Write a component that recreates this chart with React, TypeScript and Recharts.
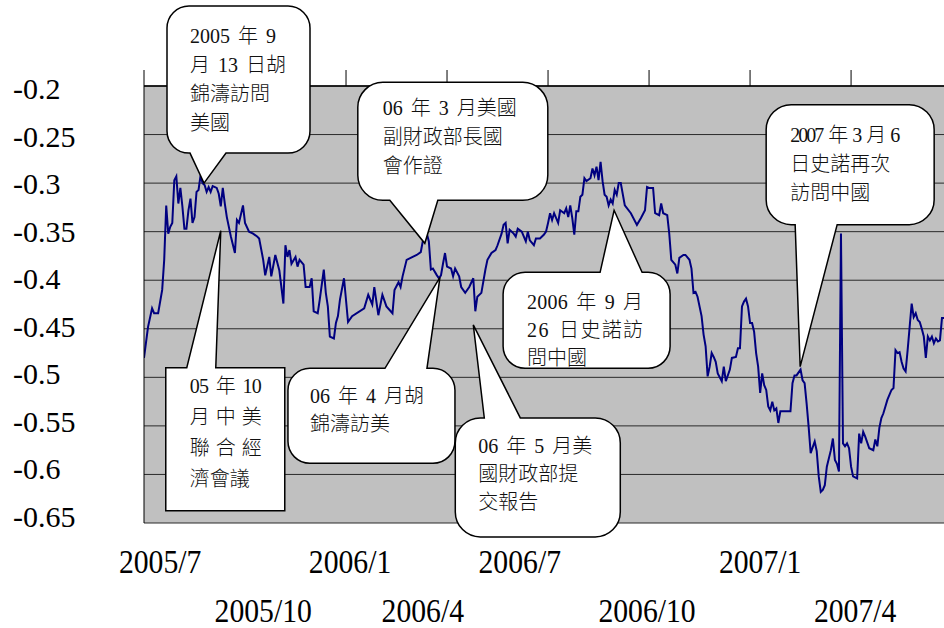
import React from 'react';
import { LineChart, Line, XAxis, YAxis, CartesianGrid, ReferenceDot } from 'recharts';

// trading-day index from the start of the series (2005/7)
const days = [
  0, 2, 4, 5, 7, 9, 10, 11, 12, 13, 14, 15, 16, 17, 18, 19, 20, 21, 22, 23,
  24, 25, 26, 27, 28, 29, 30, 31, 32, 33, 34, 36, 37, 38, 39, 40, 41, 43, 45, 46,
  47, 49, 50, 52, 54, 56, 57, 59, 60, 62, 63, 65, 67, 69, 70, 71, 72, 73, 75, 76,
  77, 79, 80, 82, 83, 84, 86, 87, 89, 90, 91, 92, 94, 95, 96, 97, 99, 101, 103, 109,
  111, 113, 114, 116, 118, 120, 123, 124, 126, 127, 128, 130, 132, 133, 135, 137, 138, 140, 141, 142,
  143, 145, 146, 147, 148, 149, 150, 152, 153, 154, 156, 157, 159, 161, 163, 164, 165, 167, 169, 170,
  172, 174, 175, 177, 178, 179, 180, 181, 183, 184, 185, 187, 189, 190, 191, 193, 194, 196, 198, 199,
  200, 201, 202, 203, 205, 206, 208, 209, 210, 211, 212, 213, 214, 215, 216, 217, 218, 219, 221, 222,
  223, 224, 225, 226, 227, 228, 229, 230, 231, 232, 233, 234, 235, 236, 238, 241, 244, 246, 248, 249,
  250, 252, 253, 255, 256, 257, 259, 260, 261, 263, 264, 265, 267, 268, 270, 271, 272, 273, 274, 276,
  277, 278, 279, 280, 281, 282, 283, 284, 286, 287, 288, 290, 291, 293, 294, 295, 296, 297, 298, 299,
  300, 301, 302, 303, 304, 305, 306, 307, 308, 309, 310, 311, 312, 313, 314, 315, 320, 321, 322, 323,
  325, 326, 327, 328, 329, 330, 332, 333, 334, 335, 336, 337, 338, 340, 341, 342, 343, 344, 345, 346,
  347, 348, 349, 350, 351, 353, 354, 355, 356, 357, 359, 361, 362, 363, 364, 365, 366, 367, 368, 370,
  371, 372, 373, 374, 375, 376, 377, 378, 379, 380, 381, 382, 383, 384, 385, 386, 387, 388, 389, 390,
  391, 392, 393, 394, 395, 396,
];

const values = [
  -0.480, -0.448, -0.429, -0.434, -0.434, -0.410, -0.379, -0.323, -0.352, -0.345, -0.341, -0.297, -0.293, -0.321, -0.305, -0.324, -0.347, -0.347, -0.328, -0.316,
  -0.341, -0.335, -0.309, -0.307, -0.292, -0.300, -0.302, -0.309, -0.304, -0.309, -0.303, -0.305, -0.311, -0.324, -0.305, -0.321, -0.335, -0.355, -0.372, -0.338,
  -0.341, -0.323, -0.341, -0.350, -0.352, -0.355, -0.357, -0.379, -0.395, -0.376, -0.396, -0.374, -0.390, -0.424, -0.364, -0.376, -0.369, -0.383, -0.376, -0.386,
  -0.379, -0.384, -0.407, -0.407, -0.398, -0.432, -0.434, -0.420, -0.389, -0.413, -0.427, -0.458, -0.460, -0.444, -0.437, -0.420, -0.398, -0.443, -0.437, -0.429,
  -0.415, -0.425, -0.407, -0.436, -0.415, -0.427, -0.434, -0.410, -0.402, -0.407, -0.396, -0.379, -0.377, -0.376, -0.374, -0.371, -0.360, -0.352, -0.360, -0.389,
  -0.388, -0.395, -0.398, -0.395, -0.383, -0.372, -0.386, -0.388, -0.396, -0.388, -0.396, -0.407, -0.413, -0.407, -0.398, -0.432, -0.417, -0.413, -0.389, -0.379,
  -0.372, -0.369, -0.364, -0.352, -0.343, -0.341, -0.362, -0.348, -0.352, -0.355, -0.347, -0.350, -0.360, -0.350, -0.359, -0.364, -0.357, -0.357, -0.353, -0.350,
  -0.341, -0.331, -0.338, -0.331, -0.341, -0.328, -0.331, -0.326, -0.335, -0.323, -0.336, -0.353, -0.329, -0.329, -0.314, -0.312, -0.295, -0.298, -0.295, -0.285,
  -0.292, -0.283, -0.297, -0.278, -0.298, -0.312, -0.314, -0.323, -0.317, -0.321, -0.307, -0.312, -0.300, -0.300, -0.323, -0.331, -0.343, -0.336, -0.328, -0.304,
  -0.305, -0.305, -0.331, -0.333, -0.321, -0.331, -0.333, -0.352, -0.379, -0.384, -0.393, -0.377, -0.374, -0.374, -0.379, -0.388, -0.413, -0.412, -0.417, -0.437,
  -0.456, -0.468, -0.499, -0.489, -0.475, -0.479, -0.484, -0.496, -0.504, -0.489, -0.504, -0.492, -0.480, -0.479, -0.470, -0.470, -0.427, -0.422, -0.419, -0.427,
  -0.444, -0.444, -0.453, -0.475, -0.489, -0.516, -0.496, -0.508, -0.513, -0.530, -0.534, -0.525, -0.534, -0.532, -0.547, -0.535, -0.535, -0.506, -0.498, -0.498,
  -0.492, -0.503, -0.506, -0.527, -0.551, -0.578, -0.566, -0.576, -0.602, -0.618, -0.616, -0.611, -0.592, -0.575, -0.563, -0.585, -0.589, -0.597, -0.352, -0.568,
  -0.571, -0.568, -0.573, -0.592, -0.602, -0.604, -0.558, -0.568, -0.556, -0.561, -0.573, -0.575, -0.564, -0.571, -0.552, -0.542, -0.537, -0.530, -0.523, -0.513,
  -0.511, -0.472, -0.475, -0.474, -0.484, -0.491, -0.494, -0.472, -0.448, -0.424, -0.438, -0.434, -0.441, -0.443, -0.450, -0.458, -0.480, -0.458, -0.462, -0.458,
  -0.465, -0.460, -0.463, -0.462, -0.439, -0.439,
];

const yTicks = [-0.65, -0.6, -0.55, -0.5, -0.45, -0.4, -0.35, -0.3, -0.25, -0.2];
const markDays = [0, 50, 100, 150, 200, 250, 300, 350];
const labelDays = [8, 59, 102, 138, 186, 249, 305, 352];
const labelTexts = ['2005/7', '2005/10', '2006/1', '2006/4', '2006/7', '2006/10', '2007/1', '2007/4'];

// event notes: where each callout points (day, value) and its text lines
const noteTips = [
  [29.7, -0.3],
  [139, -0.362],
  [38, -0.349],
  [146.5, -0.397],
  [163, -0.446],
  [232.7, -0.328],
  [324.8, -0.489],
];
const noteLines = [
  ['2005 年 9', '月 13 日胡', '錦濤訪問', '美國'],
  ['06 年 3 月美國', '副財政部長國', '會作證'],
  ['05 年 10', '月 中 美', '聯 合 經', '濟會議'],
  ['06 年 4 月胡', '錦濤訪美'],
  ['06 年 5 月美', '國財政部提', '交報告'],
  ['2006 年 9 月', '26 日史諾訪', '問中國'],
  ['2007 年 3 月 6', '日史諾再次', '訪問中國'],
];

// bubble geometry relative to the pointer tip
const noteLayout = [
  { box: [-37, -177, 106, -30], rad: 22, side: 'bottom', base: [-14, 22], dx: 23, dy: 37, lh: 29, fit: [] },
  { box: [-67, -161, 123, -43], rad: 25, side: 'bottom', base: [-35, 13], dx: 25, dy: 33, lh: 29, fit: [] },
  { box: [-55, 137, 64, 280], rad: 0, side: 'top', base: [-34, -5], dx: 24, dy: 25, lh: 31, fit: [72, 72, 72] },
  { box: [-152, 91, 15, 186], rad: 22, side: 'top', base: [-55, -13], dx: 22, dy: 35, lh: 28, fit: [] },
  { box: [-18, 93, 147, 212], rad: 25, side: 'top', base: [11, 47], dx: 23, dy: 35, lh: 28, fit: [] },
  { box: [-111, 62, 56, 158], rad: 22, side: 'top', base: [-14, 28], dx: 24, dy: 37, lh: 28, fit: [116, 116] },
  { box: [-34, -262, 134, -142], rad: 25, side: 'bottom', base: [-5, 37], dx: 24, dy: 37, lh: 29, fit: [110] },
];

const rows = days.map((t, i) => ({ t, v: values[i] }));

const SERIF = "'Liberation Serif', 'Times New Roman', serif";
const NOTE_FONT = "'Liberation Serif', 'Noto Sans CJK TC', serif";

function bubblePath(cx: number, cy: number, s: any) {
  const l = cx + s.box[0], t = cy + s.box[1], r = cx + s.box[2], b = cy + s.box[3];
  const k = s.rad;
  const b1 = cx + s.base[0], b2 = cx + s.base[1];
  let d = `M${l + k},${t}`;
  if (s.side === 'top') d += ` L${b1},${t} L${cx},${cy} L${b2},${t}`;
  d += ` L${r - k},${t}`;
  if (k) d += ` A${k},${k} 0 0 1 ${r},${t + k}`;
  d += ` L${r},${b - k}`;
  if (k) d += ` A${k},${k} 0 0 1 ${r - k},${b}`;
  if (s.side === 'bottom') d += ` L${b2},${b} L${cx},${cy} L${b1},${b}`;
  d += ` L${l + k},${b}`;
  if (k) d += ` A${k},${k} 0 0 1 ${l},${b - k}`;
  d += ` L${l},${t + k}`;
  if (k) d += ` A${k},${k} 0 0 1 ${l + k},${t}`;
  return d + ' Z';
}

const Callout = ({ cx, cy, idx }: any) => {
  if (cx == null || cy == null) return <g />;
  const s = noteLayout[idx];
  const left = cx + s.box[0];
  const top = cy + s.box[1];
  return (
    <g>
      <path d={bubblePath(cx, cy, s)} fill="#fff" stroke="#000" strokeWidth={1.5} strokeLinejoin="miter" />
      {noteLines[idx].map((line, i) => (
        <text
          key={i}
          x={left + s.dx}
          y={top + s.dy + i * s.lh}
          fontSize={20}
          fontFamily={NOTE_FONT}
          fontWeight={300}
          fill="#111"
          style={{ wordSpacing: 3 }}
          {...(s.fit[i] ? { textLength: s.fit[i], lengthAdjust: 'spacing' } : {})}
        >
          {line}
        </text>
      ))}
    </g>
  );
};

const YTick = ({ y, payload }: any) => {
  const v = payload.value;
  const shift = 4 + ((v + 0.65) / 0.45) * 9;
  return (
    <text x={13} y={y + shift} fontSize={30} fontFamily={SERIF} fill="#000">
      {String(v)}
    </text>
  );
};

const XLabelTick = ({ x, y, index }: any) => {
  const row = index % 2;
  return (
    <text
      transform={`translate(${x},${y + (row ? 99 : 50)}) scale(0.9,1)`}
      textAnchor="middle"
      fontSize={33}
      fontFamily={SERIF}
      fill="#000"
    >
      {labelTexts[index]}
    </text>
  );
};

const NoTick = () => <g />;

export default function App() {
  return (
    <div style={{ position: 'absolute', left: 0, top: 0, width: 944, height: 628, overflow: 'hidden', background: '#fff' }}>
      <LineChart width={944} height={628} data={rows} margin={{ top: 56, right: 0, bottom: 0, left: 0 }}>
        <CartesianGrid xAxisId="top" horizontal vertical={false} stroke="#2a2a2a" fill="#C0C0C0" fillOpacity={1} />
        <XAxis
          xAxisId="top"
          orientation="top"
          dataKey="t"
          type="number"
          domain={[0, 396]}
          allowDataOverflow
          ticks={markDays}
          interval={0}
          height={30}
          tickSize={16}
          tick={NoTick}
          axisLine={{ stroke: '#000', strokeWidth: 1.5 }}
          tickLine={{ stroke: '#000' }}
        />
        <XAxis
          xAxisId="lbl"
          orientation="bottom"
          dataKey="t"
          type="number"
          domain={[0, 396]}
          allowDataOverflow
          ticks={labelDays}
          interval={0}
          height={105}
          tickSize={0}
          tickMargin={0}
          tick={XLabelTick}
          axisLine={false}
          tickLine={false}
        />
        <YAxis
          type="number"
          domain={[-0.65, -0.2]}
          ticks={yTicks}
          interval={0}
          width={144}
          tick={YTick}
          tickLine={false}
          axisLine={{ stroke: '#000' }}
          allowDataOverflow
        />
        <Line
          xAxisId="top"
          type="linear"
          dataKey="v"
          stroke="#000080"
          strokeWidth={2}
          dot={false}
          activeDot={false}
          isAnimationActive={false}
        />
        {noteTips.map((tip, i) => (
          <ReferenceDot
            key={i}
            xAxisId="top"
            x={tip[0]}
            y={tip[1]}
            r={0}
            ifOverflow="visible"
            shape={(p: any) => <Callout cx={p.cx} cy={p.cy} idx={i} />}
          />
        ))}
      </LineChart>
    </div>
  );
}
